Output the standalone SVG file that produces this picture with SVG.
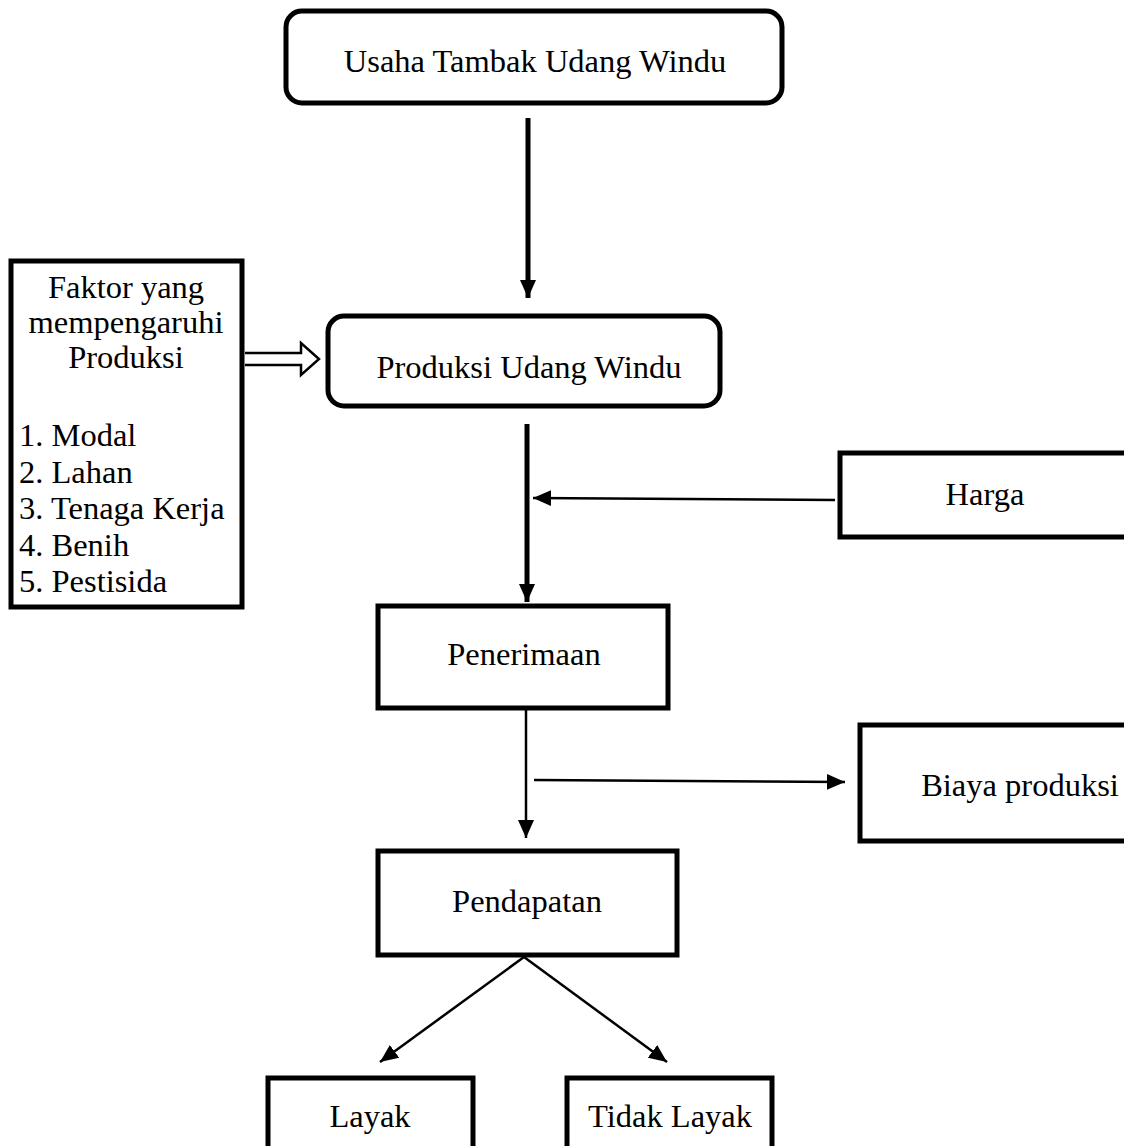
<svg xmlns="http://www.w3.org/2000/svg" width="1124" height="1146" viewBox="0 0 1124 1146">
<style>
.box{fill:#fff;stroke:#000;stroke-width:5}
.t{font-family:"Liberation Serif","Times New Roman",serif;font-size:32.5px;fill:#000}
.c{text-anchor:middle}
.thick{stroke:#000;stroke-width:5;fill:none}
.thin{stroke:#000;stroke-width:2.5;fill:none}
</style>
<defs>
<marker id="ah" markerUnits="userSpaceOnUse" markerWidth="20" markerHeight="20" viewBox="0 0 20 20" refX="18" refY="10" orient="auto">
<path d="M0,2 L18,10 L0,18 Z" fill="#000"/>
</marker>
</defs>
<rect width="1124" height="1146" fill="#fff"/>
<g id="connectors">
<line class="thick" x1="528" y1="118" x2="528" y2="298" marker-end="url(#ah)"/>
<line class="thick" x1="527" y1="424" x2="527" y2="602" marker-end="url(#ah)"/>
<line class="thin" x1="835" y1="500" x2="533" y2="498" marker-end="url(#ah)"/>
<line class="thin" x1="526" y1="709" x2="526" y2="838" marker-end="url(#ah)"/>
<line class="thin" x1="534" y1="780" x2="845" y2="782" marker-end="url(#ah)"/>
<line class="thin" x1="524" y1="957" x2="380" y2="1062" marker-end="url(#ah)"/>
<line class="thin" x1="524" y1="957" x2="667" y2="1062" marker-end="url(#ah)"/>
<path d="M245,353 H301 V343 L319,359 L301,375 V365 H245" fill="#fff" stroke="#000" stroke-width="2.5"/>
</g>
<g id="usaha">
<rect class="box" x="286" y="11" width="496" height="92" rx="16"/>
<text class="t c" x="535" y="72">Usaha Tambak Udang Windu</text>
</g>
<g id="faktor">
<rect class="box" x="11" y="261" width="231" height="346"/>
<text class="t c" x="126" y="298">Faktor yang</text>
<text class="t c" x="126" y="333">mempengaruhi</text>
<text class="t c" x="126" y="368">Produksi</text>
<text class="t" x="19" y="446">1. Modal</text>
<text class="t" x="19" y="483">2. Lahan</text>
<text class="t" x="19" y="519">3. Tenaga Kerja</text>
<text class="t" x="19" y="556">4. Benih</text>
<text class="t" x="19" y="592">5. Pestisida</text>
</g>
<g id="produksi">
<rect class="box" x="328" y="316" width="392" height="90" rx="16"/>
<text class="t c" x="529" y="378">Produksi Udang Windu</text>
</g>
<g id="harga">
<rect class="box" x="840" y="453" width="300" height="84"/>
<text class="t c" x="985" y="505">Harga</text>
</g>
<g id="penerimaan">
<rect class="box" x="378" y="606" width="290" height="102"/>
<text class="t c" x="524" y="665">Penerimaan</text>
</g>
<g id="biaya">
<rect class="box" x="860" y="725" width="280" height="116"/>
<text class="t c" x="1020" y="796">Biaya produksi</text>
</g>
<g id="pendapatan">
<rect class="box" x="378" y="851" width="299" height="104"/>
<text class="t c" x="527" y="912">Pendapatan</text>
</g>
<g id="layak">
<rect class="box" x="268" y="1078" width="205" height="80"/>
<text class="t c" x="370" y="1127">Layak</text>
</g>
<g id="tidaklayak">
<rect class="box" x="567" y="1078" width="205" height="80"/>
<text class="t c" x="670" y="1127">Tidak Layak</text>
</g>
</svg>
